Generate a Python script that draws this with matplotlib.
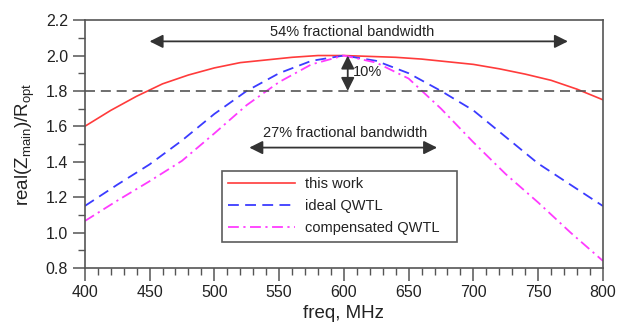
import numpy as np
import matplotlib
matplotlib.use("Agg")
import matplotlib.pyplot as plt
from matplotlib.ticker import MultipleLocator

plt.rcParams['font.family'] = ['Liberation Sans', 'DejaVu Sans']
plt.rcParams['mathtext.fontset'] = 'custom'
plt.rcParams['mathtext.rm'] = 'Liberation Sans'

# real(Z_main)/R_opt versus frequency
freq_work = [400, 420, 440, 460, 480, 500, 520, 540, 560, 580, 600,
             620, 640, 660, 680, 700, 720, 740, 760, 780, 800]
z_work = [1.60, 1.69, 1.77, 1.84, 1.89, 1.93, 1.96, 1.975, 1.99, 2.0, 2.0,
          1.995, 1.99, 1.98, 1.965, 1.95, 1.925, 1.895, 1.86, 1.81, 1.75]

freq_qwtl = [400, 425, 450, 475, 500, 525, 550, 575, 600,
             625, 650, 675, 700, 725, 750, 775, 800]
z_ideal = [1.15, 1.27, 1.385, 1.52, 1.67, 1.80, 1.90, 1.97, 2.00,
           1.97, 1.90, 1.80, 1.69, 1.54, 1.39, 1.27, 1.15]
z_comp = [1.065, 1.18, 1.29, 1.405, 1.56, 1.72, 1.85, 1.95, 2.00,
          1.96, 1.87, 1.70, 1.51, 1.33, 1.17, 1.00, 0.84]

fig = plt.figure(figsize=(6.19, 3.30), dpi=100)
ax = fig.add_axes([0.137, 0.188, 0.837, 0.751])

ax.plot(freq_work, z_work, color='#ff3b3b', lw=1.2, label='this work')
ax.plot(freq_qwtl, z_ideal, color='#3b3bff', lw=1.3, ls=(0, (6, 3.5)), label='ideal QWTL')
ax.plot(freq_qwtl, z_comp, color='#ff3bff', lw=1.3, ls=(0, (6, 2.5, 1.2, 2.5)),
        label='compensated QWTL')

# 10% drop level
ax.axhline(1.8, color='#555555', lw=1.2, ls=(0, (6, 3.5)))

arrow = dict(arrowstyle='<|-|>', color='#333333', lw=1.3,
             mutation_scale=20, shrinkA=0, shrinkB=0)
ax.annotate('', xy=(450, 2.08), xytext=(773, 2.08), arrowprops=arrow)
ax.text(606, 2.135, '54% fractional bandwidth', ha='center', va='center',
        fontsize=10.5, color='#222222')
ax.annotate('', xy=(527, 1.48), xytext=(672, 1.48), arrowprops=arrow)
ax.text(601, 1.56, '27% fractional bandwidth', ha='center', va='center',
        fontsize=10.5, color='#222222')
ax.annotate('', xy=(603, 2.0), xytext=(603, 1.8), arrowprops=arrow)
ax.text(607, 1.905, '10%', ha='left', va='center', fontsize=10.5, color='#222222')

ax.set_xlim(400, 800)
ax.set_ylim(0.8, 2.2)
ax.xaxis.set_major_locator(MultipleLocator(50))
ax.xaxis.set_minor_locator(MultipleLocator(10))
ax.yaxis.set_major_locator(MultipleLocator(0.2))
ax.yaxis.set_minor_locator(MultipleLocator(0.1))
ax.yaxis.set_major_formatter(matplotlib.ticker.FormatStrFormatter('%.1f'))

for s in ax.spines.values():
    s.set_color('#555555')
    s.set_linewidth(1.2)
ax.tick_params(which='major', direction='out', length=9, width=1.1,
               color='#555555', labelsize=11.5, labelcolor='#222222', pad=3)
ax.tick_params(which='minor', direction='out', length=5, width=1.0, color='#555555')

ax.set_xlabel('freq, MHz', fontsize=13.5, color='#222222', labelpad=4)
ax.set_ylabel(r'real(Z$_{\mathregular{main}}$)/R$_{\mathregular{opt}}$',
              fontsize=13.5, color='#222222', labelpad=6)

leg = ax.legend(loc='lower left', bbox_to_anchor=(0.264, 0.105, 0.454, 0.302),
                mode='expand', fontsize=10.5, handlelength=4.6, frameon=True,
                fancybox=False, borderaxespad=0, labelspacing=0.55,
                borderpad=0.45, handletextpad=0.7)
leg.get_frame().set_edgecolor('#333333')
leg.get_frame().set_linewidth(1.2)
for t in leg.get_texts():
    t.set_color('#222222')

fig.savefig('out.png', dpi=100)
